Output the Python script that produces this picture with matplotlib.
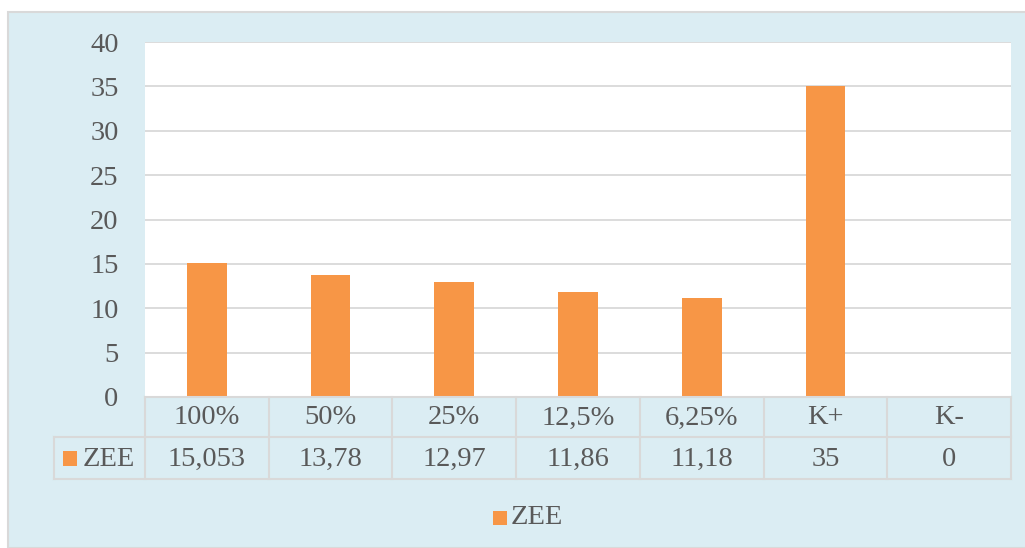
import matplotlib
matplotlib.use("Agg")
import matplotlib.pyplot as plt
from matplotlib.patches import Rectangle
from matplotlib.transforms import blended_transform_factory
import matplotlib.lines as mlines

categories = ["100%", "50%", "25%", "12,5%", "6,25%", "K+", "K-"]
values = [15.053, 13.78, 12.97, 11.86, 11.18, 35, 0]
value_labels = ["15,053", "13,78", "12,97", "11,86", "11,18", "35", "0"]
series_name = "ZEE"
yticks = [0, 5, 10, 15, 20, 25, 30, 35, 40]

W, H = 1025, 548
BG = "#DBEDF3"
BORDER = "#D9D9D9"
ORANGE = "#F79646"
TXT = "#595959"
FONT = ["Liberation Serif", "DejaVu Serif"]
FS = 20.5
plt.rcParams["font.family"] = FONT

fig = plt.figure(figsize=(W / 100, H / 100), dpi=100)
fig.patch.set_facecolor("white")

def fx(x):
    return x / W

def fy(y):
    return 1 - y / H

# chart area background
fig.patches.append(Rectangle((fx(8), 0), 1.0, fy(12), transform=fig.transFigure,
                             facecolor=BG, edgecolor=BORDER, linewidth=1.5, zorder=-5))

left, right, top, bottom = 145, 1011, 42, 397
ax = fig.add_axes([fx(left), fy(bottom), (right - left) / W, (bottom - top) / H])
ax.set_zorder(2)
ax.set_facecolor("white")
x = list(range(len(categories)))
ax.bar(x, values, width=0.32, color=ORANGE, zorder=3)
ax.set_xlim(-0.5, len(categories) - 0.5)
ax.set_ylim(0, 40)
ax.set_yticks(yticks)
ax.set_yticklabels([str(t) for t in yticks], fontsize=FS, color=TXT)
ax.tick_params(axis="y", length=0, pad=19)
ax.set_xticks([])
ax.grid(axis="y", color=BORDER, linewidth=1.3, zorder=0)
for s in ax.spines.values():
    s.set_visible(False)

# data table under the axes
tr = blended_transform_factory(ax.transData, fig.transFigure)
row1_top, row1_bot, row2_bot = 397, 437, 479
key_left = 54
line_kw = dict(color=BORDER, linewidth=1.5, zorder=3)
fig.add_artist(mlines.Line2D([-0.5, len(categories) - 0.5], [fy(row1_top)] * 2, transform=tr, **line_kw))
fig.add_artist(mlines.Line2D([fx(key_left), fx(right)], [fy(row1_bot)] * 2, transform=fig.transFigure, **line_kw))
fig.add_artist(mlines.Line2D([fx(key_left), fx(right)], [fy(row2_bot)] * 2, transform=fig.transFigure, **line_kw))
for i in range(len(categories) + 1):
    xb = i - 0.5
    fig.add_artist(mlines.Line2D([xb, xb], [fy(row1_top), fy(row2_bot)], transform=tr, **line_kw))
fig.add_artist(mlines.Line2D([fx(key_left)] * 2, [fy(row1_bot), fy(row2_bot)], transform=fig.transFigure, **line_kw))

for i, (c, v) in enumerate(zip(categories, value_labels)):
    fig.text(i, fy((row1_top + row1_bot) / 2 + 1), c, transform=tr, ha="center", va="center",
             fontsize=FS, color=TXT, zorder=4)
    fig.text(i, fy((row1_bot + row2_bot) / 2 + 1), v, transform=tr, ha="center", va="center",
             fontsize=FS, color=TXT, zorder=4)

# legend key in table
fig.patches.append(Rectangle((fx(63), fy(466)), 14 / W, 15 / H, transform=fig.transFigure,
                             facecolor=ORANGE, edgecolor="none", zorder=4))
fig.text(fx(83), fy(459), series_name, ha="left", va="center", fontsize=FS, color=TXT, zorder=4)

# bottom legend
fig.patches.append(Rectangle((fx(493), fy(525)), 14 / W, 14 / H, transform=fig.transFigure,
                             facecolor=ORANGE, edgecolor="none", zorder=4))
fig.text(fx(511), fy(518), series_name, ha="left", va="center", fontsize=FS, color=TXT, zorder=4)

fig.savefig("out.png", dpi=100, facecolor=fig.get_facecolor())
